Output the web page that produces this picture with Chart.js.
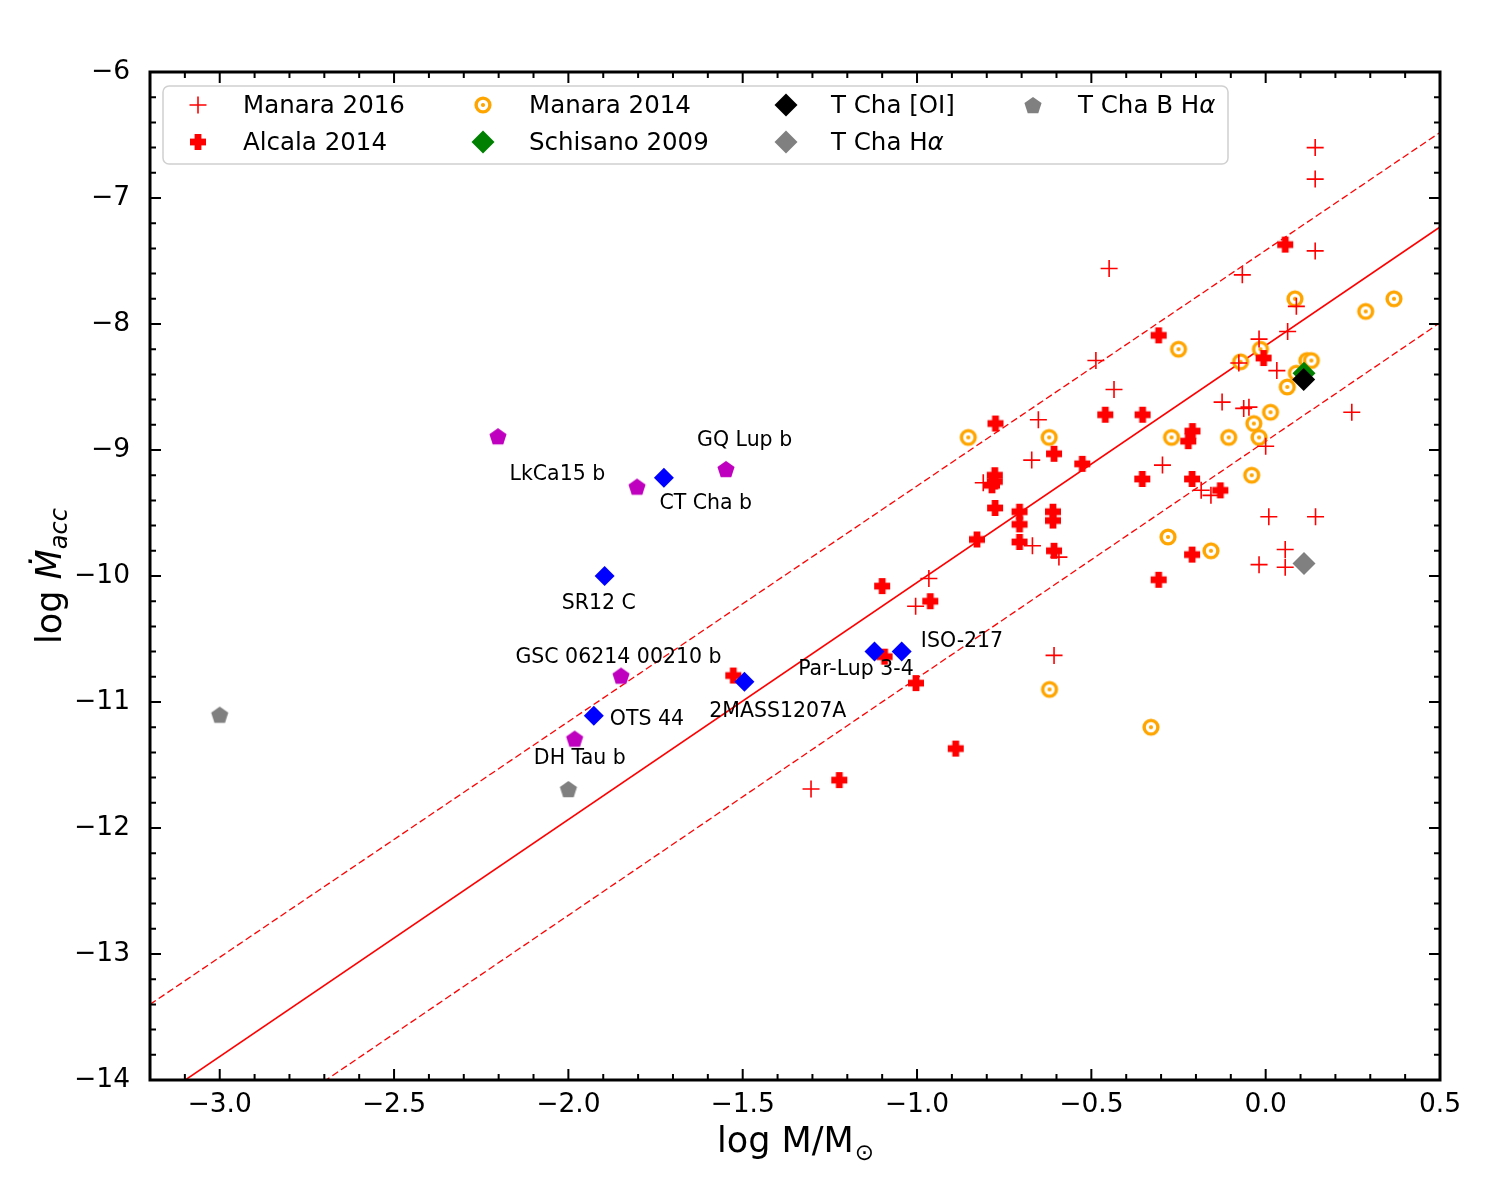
<!DOCTYPE html>
<html>
<head>
<meta charset="utf-8">
<script src="https://cdn.jsdelivr.net/npm/chart.js@4.4.1/dist/chart.umd.min.js"></script>
<style>
	body { margin: 0; background: #fff; }
	#wrap { width: 1500px; height: 1200px; }
</style>
</head>
<body>
<div id="wrap"><canvas id="myChart" width="1500" height="1200"></canvas></div>
<script>
// data: [log M/Msun, log Macc]
const manara2016 = [
	[0.142, -6.60], [0.142, -6.85], [0.142, -7.42], [-0.449, -7.56], [-0.067, -7.61],
	[0.088, -7.86], [0.063, -8.06], [-0.019, -8.12], [-0.487, -8.29], [-0.077, -8.31],
	[0.032, -8.37], [-0.435, -8.52], [-0.125, -8.62], [-0.063, -8.67], [-0.048, -8.66],
	[0.247, -8.70], [-0.652, -8.76], [-0.671, -9.08], [-0.81, -9.26], [-0.296, -9.12],
	[0.0, -8.97], [-0.185, -9.32], [-0.157, -9.36], [0.009, -9.53], [0.143, -9.53],
	[-0.669, -9.76], [-0.593, -9.85], [0.056, -9.79], [-0.019, -9.91], [0.056, -9.93],
	[-0.966, -10.02], [-1.004, -10.24], [-0.607, -10.63], [-1.304, -11.69]
];
const alcala2014 = [
	[0.056, -7.37], [-0.307, -8.09], [-0.006, -8.27], [-0.46, -8.72], [-0.353, -8.72],
	[-0.775, -8.79], [-0.607, -9.03], [-0.526, -9.11], [-0.21, -8.85], [-0.222, -8.93],
	[-0.777, -9.20], [-0.777, -9.25], [-0.785, -9.28], [-0.354, -9.23], [-0.211, -9.23],
	[-0.13, -9.32], [-0.776, -9.46], [-0.706, -9.49], [-0.706, -9.59], [-0.61, -9.49],
	[-0.61, -9.56], [-0.828, -9.71], [-0.706, -9.73], [-0.607, -9.80], [-0.211, -9.83],
	[-0.307, -10.03], [-1.1, -10.08], [-0.962, -10.20], [-1.093, -10.64], [-1.003, -10.85],
	[-0.889, -11.37], [-1.223, -11.62], [-1.527, -10.79]
];
const manara2014 = [
	[0.084, -7.80], [0.287, -7.90], [0.368, -7.80], [-0.25, -8.20], [-0.015, -8.20],
	[-0.072, -8.30], [0.118, -8.29], [0.131, -8.29], [0.088, -8.39], [0.062, -8.50],
	[0.014, -8.70], [-0.034, -8.79], [-0.853, -8.90], [-0.621, -8.90], [-0.27, -8.90],
	[-0.106, -8.90], [-0.019, -8.90], [-0.04, -9.20], [-0.28, -9.69], [-0.157, -9.80],
	[-0.62, -10.90], [-0.329, -11.20]
];
const schisano2009 = [[0.11, -8.39]];
const tChaOI = [[0.109, -8.44]];
const tChaHa = [[0.11, -9.90]];
const tChaBHa = [[-3.0, -11.1], [-2.0, -11.69]];
const planetsPentagon = [[-2.202, -8.89], [-1.803, -9.29], [-1.548, -9.15], [-1.849, -10.79], [-1.982, -11.29]];
const planetsDiamond = [[-1.726, -9.22], [-1.896, -10.0], [-1.927, -11.11], [-1.495, -10.84], [-1.122, -10.60], [-1.044, -10.60]];

// fit line and +-0.75 dex band (end points read at the plot edges)
const fitX = [-3.2, 0.5];
const fitMid = [-14.19, -7.23];
const fitUpper = [-13.40, -6.48];
const fitLower = [-14.95, -7.99];

const labelNames = ["LkCa15 b", "GQ Lup b", "CT Cha b", "SR12 C", "GSC 06214 00210 b", "OTS 44", "DH Tau b", "2MASS1207A", "Par-Lup 3-4", "ISO-217"];
const labelX = [-2.169, -1.631, -1.739, -2.019, -2.152, -1.881, -2.099, -1.596, -1.341, -0.989];
const labelY = [-9.198, -8.926, -9.423, -10.217, -10.645, -11.143, -11.447, -11.077, -10.746, -10.521];

const xTicks = [-3.0, -2.5, -2.0, -1.5, -1.0, -0.5, 0.0, 0.5];
const yTicks = [-6, -7, -8, -9, -10, -11, -12, -13, -14];
const legendNames = ["Manara 2016", "Alcala 2014", "Manara 2014", "Schisano 2009", "T Cha [OI]", "T Cha Hα", "T Cha B Hα"];

const FONT = "'DejaVu Sans', 'Liberation Sans', sans-serif";
Chart.defaults.font.family = FONT;

function pts(arr) {
	return arr.map(p => ({ x: p[0], y: p[1] }));
}

function line(ys) {
	return fitX.map((x, i) => ({ x: x, y: ys[i] }));
}

// marker images
function makePentagon(color, r) {
	const s = Math.ceil(2 * r + 2);
	const c = document.createElement("canvas");
	c.width = s; c.height = s;
	const g = c.getContext("2d");
	g.fillStyle = color;
	g.beginPath();
	for (let k = 0; k < 5; k++) {
		const a = -Math.PI / 2 + k * 2 * Math.PI / 5;
		const px = s / 2 + r * Math.cos(a);
		const py = s / 2 + r * Math.sin(a) + r * 0.1;
		if (k === 0) g.moveTo(px, py); else g.lineTo(px, py);
	}
	g.closePath();
	g.fill();
	return c;
}

function makeTarget(color) {
	const c = document.createElement("canvas");
	c.width = 20; c.height = 20;
	const g = c.getContext("2d");
	g.fillStyle = color;
	g.beginPath(); g.arc(10, 10, 8.6, 0, 2 * Math.PI); g.fill();
	g.fillStyle = "#fff";
	g.beginPath(); g.arc(10, 10, 5.2, 0, 2 * Math.PI); g.fill();
	g.fillStyle = color;
	g.beginPath(); g.arc(10, 10, 2.1, 0, 2 * Math.PI); g.fill();
	return c;
}

function makePlus(color) {
	const c = document.createElement("canvas");
	c.width = 18; c.height = 18;
	const g = c.getContext("2d");
	g.fillStyle = color;
	g.fillRect(1, 5.6, 16, 6.8);
	g.fillRect(5.6, 1, 6.8, 16);
	return c;
}

const orangeTarget = makeTarget("#ffa500");
const redPlus = makePlus("#ff0000");
const magentaPent = makePentagon("#bf00bf", 9);
const greyPent = makePentagon("#808080", 9);

const scatterSets = [
	{ data: pts(manara2016), pointStyle: "cross", pointRadius: 8.5, borderColor: "#ff0000", backgroundColor: "#ff0000", pointBorderWidth: 1.6, order: 8 },
	{ data: pts(alcala2014), pointStyle: redPlus, pointRadius: 9, borderColor: "#ff0000", backgroundColor: "#ff0000", pointBorderWidth: 0, order: 7 },
	{ data: pts(manara2014), pointStyle: orangeTarget, pointRadius: 10, borderColor: "#ffa500", backgroundColor: "#ffa500", pointBorderWidth: 0, order: 9 },
	{ data: pts(schisano2009), pointStyle: "rectRot", pointRadius: 11.5, borderColor: "#008000", backgroundColor: "#008000", pointBorderWidth: 0, order: 6 },
	{ data: pts(tChaOI), pointStyle: "rectRot", pointRadius: 11.5, borderColor: "#000", backgroundColor: "#000", pointBorderWidth: 0, order: 5 },
	{ data: pts(tChaHa), pointStyle: "rectRot", pointRadius: 11.5, borderColor: "#808080", backgroundColor: "#808080", pointBorderWidth: 0, order: 4 },
	{ data: pts(tChaBHa), pointStyle: greyPent, pointRadius: 10, borderColor: "#808080", backgroundColor: "#808080", pointBorderWidth: 0, order: 3 },
];
scatterSets.forEach((d, i) => { d.label = legendNames[i]; });

const datasets = [
	{ data: line(fitMid), showLine: true, borderColor: "#ff0000", borderWidth: 1.6, pointRadius: 0, order: 20 },
	{ data: line(fitUpper), showLine: true, borderColor: "#ff0000", borderWidth: 1.3, borderDash: [7, 3.5], pointRadius: 0, order: 20 },
	{ data: line(fitLower), showLine: true, borderColor: "#ff0000", borderWidth: 1.3, borderDash: [7, 3.5], pointRadius: 0, order: 20 },
	...scatterSets,
	{ data: pts(planetsPentagon), pointStyle: magentaPent, pointRadius: 10, borderColor: "#bf00bf", backgroundColor: "#bf00bf", pointBorderWidth: 0, order: 2 },
	{ data: pts(planetsDiamond), pointStyle: "rectRot", pointRadius: 10, borderColor: "#0000ff", backgroundColor: "#0000ff", pointBorderWidth: 0, order: 1 },
];

function minusSign(s) {
	return s.replace("-", "\u2212");
}

// legend, frame, inward ticks, annotations and axis titles
const decor = {
	id: "decor",
	afterDatasetsDraw(chart) {
		const ctx = chart.ctx;
		const xs = chart.scales.x;
		const ys = chart.scales.y;
		ctx.save();
		ctx.fillStyle = "#000";
		ctx.font = "20.5px " + FONT;
		ctx.textAlign = "left";
		ctx.textBaseline = "middle";
		labelNames.forEach((t, i) => {
			ctx.fillText(t, xs.getPixelForValue(labelX[i]), ys.getPixelForValue(labelY[i]));
		});
		ctx.restore();
	},
	afterDraw(chart) {
		const ctx = chart.ctx;
		const xs = chart.scales.x;
		const ys = chart.scales.y;
		const { left, right, top, bottom } = chart.chartArea;
		ctx.save();

		// ticks pointing inward on all four sides
		ctx.strokeStyle = "#000";
		ctx.lineWidth = 2;
		ctx.beginPath();
		for (let k = -32; k <= 5; k++) {
			const px = xs.getPixelForValue(k / 10);
			const len = k % 5 === 0 ? 11 : 6;
			ctx.moveTo(px, bottom); ctx.lineTo(px, bottom - len);
			ctx.moveTo(px, top); ctx.lineTo(px, top + len);
		}
		for (let k = -70; k <= -30; k++) {
			const py = ys.getPixelForValue(k / 5);
			const len = k % 5 === 0 ? 11 : 6;
			ctx.moveTo(left, py); ctx.lineTo(left + len, py);
			ctx.moveTo(right, py); ctx.lineTo(right - len, py);
		}
		ctx.stroke();
		ctx.lineWidth = 3;
		ctx.strokeRect(left, top, right - left, bottom - top);

		// legend box
		const bx = left + 13, by = top + 14, bw = 1065, bh = 78;
		ctx.beginPath();
		ctx.roundRect(bx, by, bw, bh, 6);
		ctx.fillStyle = "rgba(255,255,255,0.8)";
		ctx.fill();
		ctx.strokeStyle = "#d0d0d0";
		ctx.lineWidth = 1.5;
		ctx.stroke();

		const markX = [48, 333, 636, 883];
		const textX = [93, 379, 681, 928];
		const rowY = [33, 70];
		scatterSets.forEach((d, i) => {
			const col = Math.floor(i / 2);
			const row = i % 2;
			const mx = left + markX[col];
			const my = top + rowY[row];
			ctx.save();
			ctx.fillStyle = d.backgroundColor;
			ctx.strokeStyle = d.borderColor;
			ctx.lineWidth = d.pointBorderWidth;
			Chart.helpers.drawPoint(ctx, { pointStyle: d.pointStyle, radius: d.pointRadius, borderWidth: d.pointBorderWidth, rotation: 0 }, mx, my);
			ctx.restore();

			ctx.fillStyle = "#000";
			ctx.textAlign = "left";
			ctx.textBaseline = "middle";
			const name = d.label;
			const tx = left + textX[col];
			const ty = my + 2;
			if (name.endsWith("α")) {
				const head = name.slice(0, -1);
				ctx.font = "24.5px " + FONT;
				ctx.fillText(head, tx, ty);
				const w = ctx.measureText(head).width;
				ctx.font = "italic 24.5px " + FONT;
				ctx.fillText("α", tx + w, ty);
			} else {
				ctx.font = "24.5px " + FONT;
				ctx.fillText(name, tx, ty);
			}
		});

		// x axis title: log M/M_sun
		ctx.fillStyle = "#000";
		ctx.textBaseline = "alphabetic";
		ctx.textAlign = "left";
		ctx.font = "35px " + FONT;
		const xMain = "log M/M";
		const wMain = ctx.measureText(xMain).width;
		ctx.font = "23px " + FONT;
		const wSun = ctx.measureText("\u2299").width;
		let x0 = (left + right) / 2 - (wMain + wSun) / 2;
		ctx.font = "35px " + FONT;
		ctx.fillText(xMain, x0, 1152);
		ctx.font = "23px " + FONT;
		ctx.fillText("\u2299", x0 + wMain + 1, 1160);

		// y axis title: log Mdot_acc
		ctx.save();
		ctx.translate(61, (top + bottom) / 2);
		ctx.rotate(-Math.PI / 2);
		ctx.font = "35px " + FONT;
		const w1 = ctx.measureText("log ").width;
		ctx.font = "italic 35px " + FONT;
		const w2 = ctx.measureText("\u1E40").width;
		ctx.font = "italic 24px " + FONT;
		const w3 = ctx.measureText("acc").width;
		let s = -(w1 + w2 + w3) / 2;
		ctx.font = "35px " + FONT;
		ctx.fillText("log ", s, 0);
		ctx.font = "italic 35px " + FONT;
		ctx.fillText("\u1E40", s + w1, 0);
		ctx.font = "italic 24px " + FONT;
		ctx.fillText("acc", s + w1 + w2, 6);
		ctx.restore();

		ctx.restore();
	}
};

const ctx = document.getElementById("myChart").getContext("2d");
const myChart = new Chart(ctx, {
	type: "scatter",
	data: { datasets: datasets },
	options: {
		responsive: false,
		animation: false,
		devicePixelRatio: 1,
		events: [],
		layout: { padding: { top: 72, right: 60, left: 0, bottom: 0 } },
		plugins: {
			legend: { display: false },
			tooltip: { enabled: false },
		},
		scales: {
			x: {
				type: "linear",
				min: -3.2,
				max: 0.5,
				grid: { display: false },
				border: { display: false },
				ticks: {
					color: "#000",
					font: { size: 26.5 },
					padding: 1,
					maxRotation: 0,
					callback: (v) => minusSign(Number(v).toFixed(1)),
				},
				afterBuildTicks: (s) => { s.ticks = xTicks.map(v => ({ value: v })); },
				afterFit: (s) => { s.height = 120; },
			},
			y: {
				type: "linear",
				min: -14,
				max: -6,
				grid: { display: false },
				border: { display: false },
				ticks: {
					color: "#000",
					font: { size: 26.5 },
					padding: 12,
					callback: (v) => minusSign(String(v)),
				},
				afterBuildTicks: (s) => { s.ticks = yTicks.map(v => ({ value: v })); },
				afterFit: (s) => { s.height = s.height; s.width = 150; },
			},
		},
	},
	plugins: [decor],
});
</script>
</body>
</html>
